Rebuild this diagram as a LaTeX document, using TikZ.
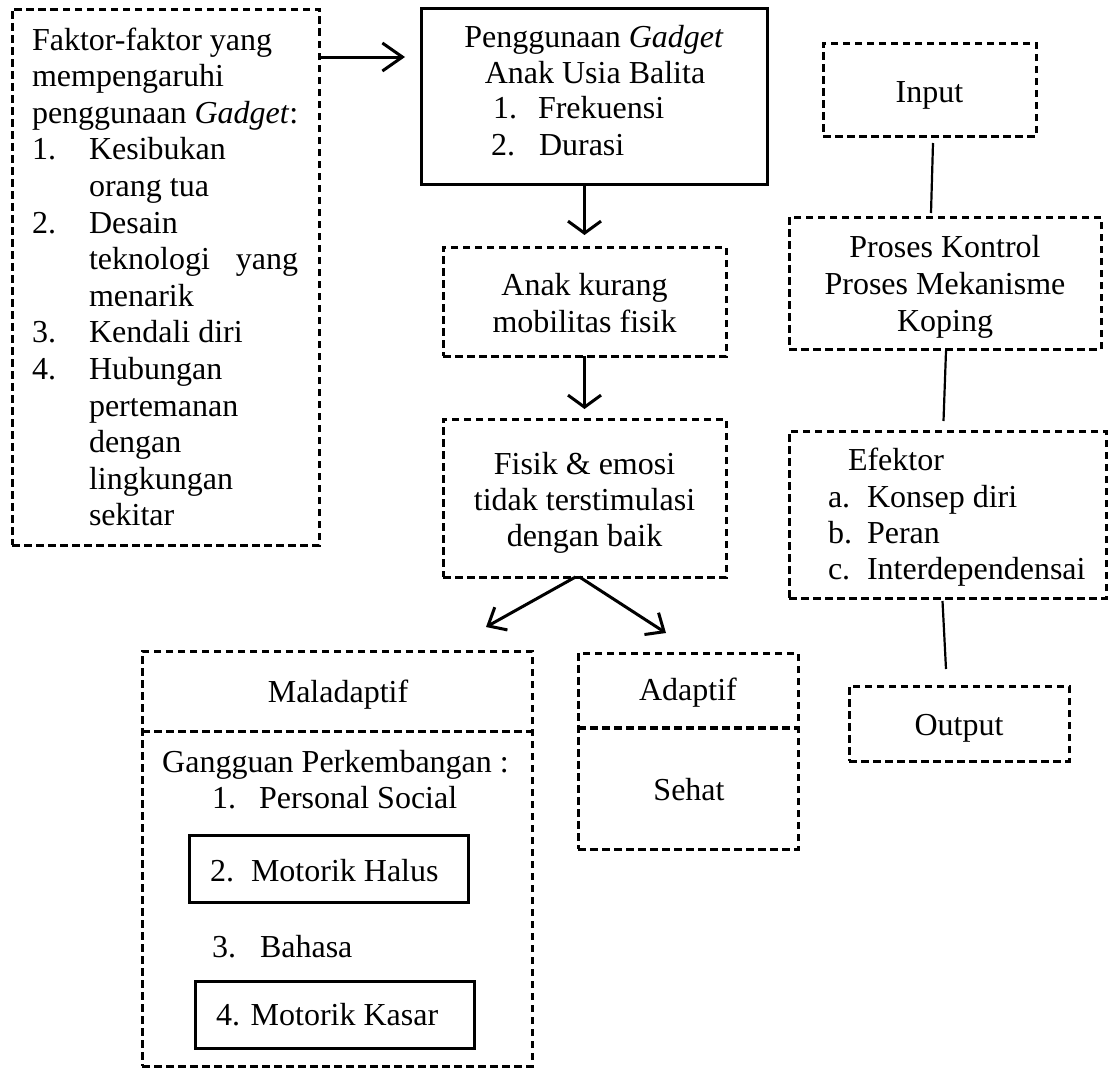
\documentclass[tikz,border=0pt]{standalone}
\usepackage{fontspec}
\setmainfont{Liberation Serif}
\usetikzlibrary{arrows.meta}
\begin{document}
\begin{tikzpicture}[x=1pt,y=-1pt,
  every node/.style={inner sep=0pt, outer sep=0pt, font=\fontsize{32}{36.6}\selectfont},
  dbox/.style={draw, line width=3pt, dash pattern=on 7.5pt off 4.5pt, anchor=north west},
  sbox/.style={draw, line width=3pt, anchor=north west},
  txt/.style={anchor=base west},
  ctxt/.style={anchor=base},
  varr/.style={line width=3pt, -{Straight Barb[length=12pt,width=33pt]}},
  harr/.style={line width=3pt, -{Straight Barb[length=20pt,width=28pt]}},
  darr/.style={line width=3pt, -{Straight Barb[length=15pt,width=26pt]}},
  link/.style={line width=2.2pt}
]
\useasboundingbox (0,0) rectangle (1108,1068);

% ---------- left box ----------
\node[dbox, minimum width=307pt, minimum height=536pt] (fk) at (12,9) {};
\node[txt] (l1) at (32,50) {Faktor-faktor yang};
\node[txt] (l2) at (32,86.6) {mempengaruhi};
\node[txt] (l3) at (32,123.2) {penggunaan \textit{Gadget}:};
\node[txt] (l4n) at (32,159.8) {1.};
\node[txt] (l4) at (89,159.8) {Kesibukan};
\node[txt] (l5) at (89,196.4) {orang tua};
\node[txt] (l6n) at (32,233) {2.};
\node[txt] (l6) at (89,233) {Desain};
\node[txt] (l7) at (89,269.6) {\makebox[209pt][s]{teknologi yang}};
\node[txt] (l8) at (89,306.2) {menarik};
\node[txt] (l9n) at (32,342.8) {3.};
\node[txt] (l9) at (89,342.8) {Kendali diri};
\node[txt] (l10n) at (32,379.4) {4.};
\node[txt] (l10) at (89,379.4) {Hubungan};
\node[txt] (l11) at (89,416) {pertemanan};
\node[txt] (l12) at (89,452.6) {dengan};
\node[txt] (l13) at (89,489.2) {lingkungan};
\node[txt] (l14) at (89,525.8) {sekitar};

% ---------- Penggunaan Gadget ----------
\node[sbox, minimum width=346pt, minimum height=176pt] (peng) at (421,8) {};
\node[ctxt] (p1) at (594,47) {Penggunaan \textit{Gadget}};
\node[ctxt] (p2) at (595,83) {Anak Usia Balita};
\node[txt] (p3n) at (493,118) {1.};
\node[txt] (p3) at (538,118) {Frekuensi};
\node[txt] (p4n) at (491,155) {2.};
\node[txt] (p4) at (539,155) {Durasi};

% ---------- Anak kurang ----------
\node[dbox, minimum width=283pt, minimum height=109pt] (anak) at (443,247) {};
\node[ctxt] (a1) at (584.5,295) {Anak kurang};
\node[ctxt] (a2) at (584.5,332) {mobilitas fisik};

% ---------- Fisik & emosi ----------
\node[dbox, minimum width=283pt, minimum height=158pt] (fis) at (443,419) {};
\node[ctxt] (f1) at (584.5,474) {Fisik \& emosi};
\node[ctxt] (f2) at (584.5,510) {tidak terstimulasi};
\node[ctxt] (f3) at (584.5,546) {dengan baik};

% ---------- Maladaptif ----------
\node[dbox, minimum width=390pt, minimum height=415pt] (mal) at (142,651) {};
\coordinate (mdl) at (142,731);
\draw[line width=3pt, dash pattern=on 7.5pt off 4.5pt] (mdl) -- (mdl -| mal.east);
\node[ctxt] (m0) at (338,702) {Maladaptif};
\node[ctxt] (m1) at (335.5,772) {Gangguan Perkembangan :};
\node[txt] (m2n) at (212,808) {1.};
\node[txt] (m2) at (259,808) {Personal Social};
\node[sbox, minimum width=279pt, minimum height=67pt] (mh) at (189,835) {};
\node[txt] (m3n) at (210,881) {2.};
\node[txt] (m3) at (251,881) {Motorik Halus};
\node[txt] (m4n) at (212,957) {3.};
\node[txt] (m4) at (260,957) {Bahasa};
\node[sbox, minimum width=279pt, minimum height=67pt] (mk) at (195,981) {};
\node[txt] (m5) at (216,1025) {4. Motorik Kasar};

% ---------- Adaptif ----------
\node[dbox, minimum width=220pt, minimum height=196pt] (ad) at (578,653) {};
\coordinate (adl) at (578,728);
\draw[line width=4pt, dash pattern=on 7.5pt off 4.5pt] (adl) -- (adl -| ad.east);
\node[ctxt] (ad1) at (688,700) {Adaptif};
\node[ctxt] (ad2) at (689,800) {Sehat};

% ---------- right column ----------
\node[dbox, minimum width=213pt, minimum height=93pt] (inp) at (823,43) {};
\node[ctxt] (i1) at (929.5,102) {Input};

\node[dbox, minimum width=312pt, minimum height=132pt] (pro) at (789,217) {};
\node[ctxt] (r1) at (945,257) {Proses Kontrol};
\node[ctxt] (r2) at (945,294) {Proses Mekanisme};
\node[ctxt] (r3) at (945,331) {Koping};

\node[dbox, minimum width=317pt, minimum height=167pt] (ef) at (789,431) {};
\node[txt] (e1) at (848,470) {Efektor};
\node[txt] (e2n) at (828,507) {a.};
\node[txt] (e2) at (867,507) {Konsep diri};
\node[txt] (e3n) at (828,543) {b.};
\node[txt] (e3) at (867,543) {Peran};
\node[txt] (e4n) at (828,579) {c.};
\node[txt] (e4) at (867,579) {Interdependensai};

\node[dbox, minimum width=220pt, minimum height=75pt] (out) at (849,686) {};
\node[ctxt] (o1) at (959,735) {Output};

% ---------- connectors ----------
\draw[harr, shorten >=16pt] ([yshift=-48pt]fk.north east) -- ([yshift=-48pt]fk.north east -| peng.west);
\draw[varr, shorten >=12pt] (anak.north |- peng.south) -- (anak.north);
\draw[varr, shorten >=10pt] (anak.south) -- (fis.north);
\coordinate (tipL) at (486,627);
\coordinate (tipR) at (666,633);
\draw[darr] ([xshift=-9pt]fis.south) -- (tipL);
\draw[darr] ([xshift=-5pt]fis.south) -- (tipR);

\draw[link] ([xshift=3.5pt,yshift=-7pt]inp.south) -- ([xshift=-14pt,yshift=4pt]pro.north);
\draw[link] ([xshift=1pt,yshift=-2pt]pro.south) -- ([xshift=-4pt,yshift=10pt]ef.north);
\draw[link] ([xshift=-5pt,yshift=-3pt]ef.south) -- ([xshift=-13pt,yshift=17pt]out.north);
\end{tikzpicture}
\end{document}
